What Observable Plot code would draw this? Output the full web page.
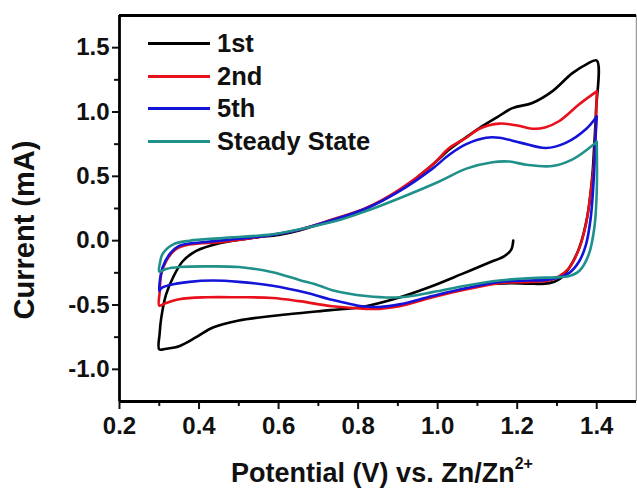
<!DOCTYPE html>
<html>
<head>
<meta charset="utf-8">
<script src="https://cdn.jsdelivr.net/npm/d3@7"></script>
<script src="https://cdn.jsdelivr.net/npm/@observablehq/plot@0.6"></script>
<style>
  body { margin: 0; background: #fff; }
  #wrap { position: relative; width: 637px; height: 495px; font-family: "Liberation Sans", Arial, sans-serif; }
  #legend { position: absolute; left: 148px; top: 27px; font-weight: bold; font-size: 25.5px; color: #111; }
  .row { display: flex; align-items: center; height: 32.8px; }
  .sw { width: 62px; height: 3px; margin-right: 7px; }
</style>
</head>
<body>
<div id="wrap"></div>
<script>
const seriesNames = ["1st", "2nd", "5th", "Steady State"];
const seriesColors = ["#000000", "#e8101a", "#1414d8", "#20908a"];

// 1st cycle (starts at OCV ~1.19 V)
const v1st = [1.19, 1.185, 1.168, 1.13, 1.06, 0.98, 0.895, 0.81, 0.73, 0.63, 0.50, 0.435, 0.393, 0.35, 0.317, 0.30, 0.301, 0.305, 0.317, 0.334, 0.359, 0.393, 0.451, 0.544, 0.60, 0.652, 0.735, 0.82, 0.904, 0.987, 1.03, 1.07, 1.105, 1.15, 1.188, 1.238, 1.288, 1.338, 1.374, 1.40, 1.398, 1.393, 1.389, 1.377, 1.356, 1.331, 1.306, 1.281, 1.23, 1.188, 1.15];
const i1st = [0.00, -0.07, -0.12, -0.17, -0.26, -0.36, -0.45, -0.515, -0.54, -0.57, -0.62, -0.675, -0.75, -0.82, -0.84, -0.845, -0.72, -0.60, -0.42, -0.29, -0.16, -0.08, -0.02, 0.025, 0.045, 0.08, 0.16, 0.25, 0.39, 0.59, 0.71, 0.80, 0.875, 0.96, 1.03, 1.07, 1.16, 1.30, 1.37, 1.40, 1.0, 0.70, 0.51, 0.20, -0.056, -0.21, -0.30, -0.33, -0.335, -0.33, -0.335];

// 2nd cycle
const v2nd = [1.40, 1.398, 1.393, 1.385, 1.373, 1.356, 1.331, 1.306, 1.28, 1.23, 1.155, 1.07, 0.987, 0.904, 0.853, 0.82, 0.735, 0.652, 0.585, 0.50, 0.418, 0.35, 0.313, 0.30, 0.301, 0.305, 0.317, 0.342, 0.376, 0.459, 0.544, 0.652, 0.735, 0.82, 0.904, 0.987, 1.029, 1.072, 1.105, 1.155, 1.20, 1.238, 1.27, 1.306, 1.356, 1.40];
const i2nd = [1.16, 0.90, 0.60, 0.38, 0.13, -0.06, -0.21, -0.275, -0.31, -0.32, -0.33, -0.38, -0.44, -0.51, -0.53, -0.53, -0.51, -0.47, -0.445, -0.44, -0.44, -0.455, -0.49, -0.505, -0.40, -0.26, -0.16, -0.066, -0.03, -0.01, 0.025, 0.085, 0.164, 0.254, 0.397, 0.59, 0.72, 0.80, 0.87, 0.91, 0.895, 0.87, 0.88, 0.93, 1.06, 1.16];

// 5th cycle
const v5th = [1.40, 1.397, 1.393, 1.385, 1.373, 1.356, 1.331, 1.30, 1.272, 1.23, 1.155, 1.07, 0.987, 0.904, 0.853, 0.811, 0.728, 0.67, 0.585, 0.50, 0.434, 0.376, 0.326, 0.305, 0.30, 0.302, 0.308, 0.326, 0.35, 0.418, 0.50, 0.585, 0.652, 0.735, 0.82, 0.904, 0.987, 1.03, 1.072, 1.122, 1.155, 1.21, 1.272, 1.322, 1.374, 1.40];
const i5th = [0.965, 0.80, 0.51, 0.18, -0.03, -0.16, -0.25, -0.29, -0.305, -0.31, -0.32, -0.37, -0.43, -0.495, -0.515, -0.51, -0.455, -0.405, -0.35, -0.32, -0.31, -0.32, -0.345, -0.37, -0.39, -0.30, -0.21, -0.105, -0.04, -0.01, 0.015, 0.045, 0.085, 0.16, 0.25, 0.385, 0.56, 0.67, 0.75, 0.80, 0.80, 0.76, 0.72, 0.76, 0.87, 0.965];

// Steady state
const vSS = [1.40, 1.40, 1.394, 1.38, 1.356, 1.331, 1.297, 1.238, 1.155, 1.07, 0.987, 0.904, 0.82, 0.735, 0.703, 0.652, 0.585, 0.50, 0.418, 0.35, 0.317, 0.30, 0.302, 0.308, 0.334, 0.376, 0.459, 0.585, 0.67, 0.753, 0.82, 0.904, 1.004, 1.072, 1.138, 1.18, 1.223, 1.288, 1.338, 1.381, 1.40];
const iSS = [0.77, 0.38, 0.10, -0.107, -0.236, -0.275, -0.285, -0.29, -0.31, -0.35, -0.40, -0.44, -0.43, -0.385, -0.35, -0.305, -0.245, -0.205, -0.20, -0.205, -0.22, -0.24, -0.17, -0.105, -0.03, 0.0, 0.02, 0.05, 0.10, 0.16, 0.23, 0.33, 0.46, 0.56, 0.61, 0.615, 0.59, 0.58, 0.63, 0.72, 0.77];

const xTicks = [0.2, 0.4, 0.6, 0.8, 1.0, 1.2, 1.4];
const xMinorTicks = [0.3, 0.5, 0.7, 0.9, 1.1, 1.3];
const yTicks = [-1.0, -0.5, 0.0, 0.5, 1.0, 1.5];
const yMinorTicks = [-0.75, -0.25, 0.25, 0.75, 1.25];
const xDomain = [0.2, 1.5];
const yDomain = [-1.25, 1.75];

const seriesV = [v1st, v2nd, v5th, vSS];
const seriesI = [i1st, i2nd, i5th, iSS];
const rows = [];
seriesNames.forEach((name, k) => {
  const n = Math.min(seriesV[k].length, seriesI[k].length);
  for (let j = 0; j < n; j++) rows.push({series: name, v: seriesV[k][j], i: seriesI[k][j]});
});

const fmt = d => d.toFixed(1);
const font = '"Liberation Sans", Arial, sans-serif';

const chart = Plot.plot({
  width: 637,
  height: 495,
  marginLeft: 119,
  marginRight: 1,
  marginTop: 15,
  marginBottom: 94,
  style: {fontFamily: font, fontSize: "24px", fontWeight: "bold", color: "#111", background: "#fff"},
  x: {domain: xDomain, label: null},
  y: {domain: yDomain, label: null},
  color: {domain: seriesNames, range: seriesColors},
  marks: [
    Plot.line(rows, {x: "v", y: "i", z: "series", stroke: "series", strokeWidth: 2.6, curve: "catmull-rom"}),
    Plot.axisX({ticks: xTicks, tickFormat: fmt, tickSize: 8, tickPadding: 7, strokeWidth: 2, fontSize: 24}),
    Plot.axisX({ticks: xMinorTicks, tickSize: 5, text: null, strokeWidth: 2}),
    Plot.axisY({ticks: yTicks, tickFormat: fmt, tickSize: 7, tickPadding: 3, strokeWidth: 2, fontSize: 24}),
    Plot.axisY({ticks: yMinorTicks, tickSize: 5, text: null, strokeWidth: 2}),
    Plot.ruleX([xDomain[1]], {stroke: "#9a9a9a", strokeWidth: 1.5}),
    Plot.ruleY([yDomain[1]], {stroke: "#000", strokeWidth: 2.8}),
    Plot.ruleY([yDomain[0]], {stroke: "#000", strokeWidth: 2.8}),
    Plot.ruleX([xDomain[0]], {stroke: "#000", strokeWidth: 2.8})
  ]
});

const wrap = document.getElementById("wrap");
wrap.appendChild(chart);

// axis titles (real text)
const svg = d3.select(chart);
svg.append("text")
  .attr("transform", "translate(34,230) rotate(-90)")
  .attr("text-anchor", "middle")
  .style("font-family", font).style("font-weight", "bold").style("font-size", "29px").attr("fill", "#111")
  .text("Current (mA)");
const xl = svg.append("text")
  .attr("x", 382).attr("y", 482)
  .attr("text-anchor", "middle")
  .style("font-family", font).style("font-weight", "bold").style("font-size", "27px").attr("fill", "#111");
xl.append("tspan").text("Potential (V) vs. Zn/Zn");
xl.append("tspan").attr("dy", "-13").style("font-size", "16px").text("2+");

// legend
const legend = document.createElement("div");
legend.id = "legend";
seriesNames.forEach((name, k) => {
  const row = document.createElement("div");
  row.className = "row";
  const sw = document.createElement("span");
  sw.className = "sw";
  sw.style.background = seriesColors[k];
  const tx = document.createElement("span");
  tx.textContent = name;
  row.appendChild(sw);
  row.appendChild(tx);
  legend.appendChild(row);
});
wrap.appendChild(legend);
</script>
</body>
</html>
